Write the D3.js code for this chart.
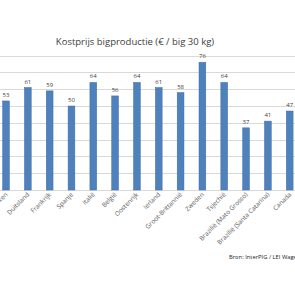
<!DOCTYPE html>
<html><head><meta charset="utf-8">
<script src="https://cdn.jsdelivr.net/npm/d3@7"></script>
<style>body{margin:0;background:#fff}svg{display:block}</style>
</head><body><svg id="c" width="295" height="295"></svg>
<script>
const categories = ["Denemarken","Duitsland","Frankrijk","Spanje","Italië","België","Oostenrijk","Ierland","Groot-Brittannië","Zweden","Tsjechië","Brazilië (Mato Grosso)","Brazilië (Santa Catarina)","Canada"];
const values = [53,61,59,50,64,56,64,61,58,76,64,37,41,47];
const yTicks = [0,10,20,30,40,50,60,70,80];
const title = "Kostprijs bigproductie (€ / big 30 kg)";
const source = "Bron: InterPIG / LEI Wageningen";

const svg = d3.select("#c");
const font = "'Open Sans', 'DejaVu Sans', sans-serif";
const x = d3.scaleBand().domain(categories).range([-4.9, 300.6]).paddingInner(0.69).paddingOuter(0.345);
const y = d3.scaleLinear().domain([0,80]).range([190, 55.6]);

svg.append("g").selectAll("line").data(yTicks).join("line")
  .attr("x1",0).attr("x2",295).attr("y1",d=>Math.round(y(d))+0.5).attr("y2",d=>Math.round(y(d))+0.5)
  .attr("stroke","#d9d9d9").attr("stroke-width",1);

svg.append("g").selectAll("rect").data(values).join("rect")
  .attr("x",(d,i)=>x(categories[i])).attr("width",x.bandwidth())
  .attr("y",d=>y(d)).attr("height",d=>y(0)-y(d))
  .attr("fill","#4f81bd").attr("stroke","#3d6da8").attr("stroke-width",0.5);

svg.append("g").selectAll("text").data(values).join("text")
  .attr("x",(d,i)=>x(categories[i])+x.bandwidth()/2).attr("y",d=>y(d)-4)
  .attr("text-anchor","middle").attr("font-family",font).attr("font-size",6).attr("fill","#404040")
  .text(d=>d);

svg.append("g").selectAll("text").data(categories).join("text")
  .attr("transform",d=>`translate(${x(d)+x.bandwidth()/2+2},${y(0)+5}) rotate(-45)`)
  .attr("text-anchor","end").attr("font-family",font).attr("font-size",6.4).attr("fill","#595959")
  .text(d=>d);

svg.append("text").attr("x",135).attr("y",45).attr("text-anchor","middle")
  .attr("font-family",font).attr("font-size",9.5).attr("fill","#404040").text(title);

svg.append("text").attr("x",229).attr("y",259)
  .attr("font-family",font).attr("font-size",5.8).attr("fill","#222").text(source);
</script></body></html>
